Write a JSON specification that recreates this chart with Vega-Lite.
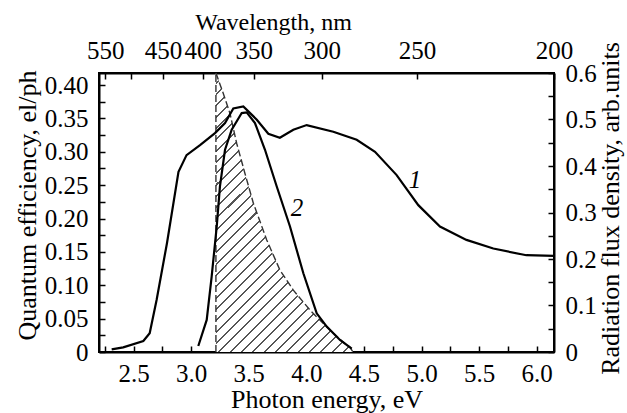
{
  "$schema": "https://vega.github.io/schema/vega-lite/v6.json",
  "width": 455,
  "height": 279,
  "autosize": {"type": "none"},
  "padding": {"left": 99, "top": 73, "right": 73, "bottom": 61},
  "background": "white",
  "config": {
    "view": {"stroke": "black", "strokeWidth": 2},
    "axis": {
      "grid": false,
      "domainColor": "black",
      "domainWidth": 2,
      "tickColor": "black",
      "tickWidth": 1.5,
      "tickSize": -6,
      "labelColor": "black",
      "titleColor": "black",
      "labelFont": "Liberation Serif",
      "titleFont": "Liberation Serif",
      "labelFontSize": 25,
      "titleFontSize": 26,
      "titleFontWeight": "normal",
      "labelOverlap": false,
      "labelFlush": false
    }
  },
  "datasets": {
    "c1": [
      {"E": 2.31, "v": 0.004}, {"E": 2.41, "v": 0.007}, {"E": 2.585, "v": 0.0165},
      {"E": 2.64, "v": 0.028}, {"E": 2.70, "v": 0.078}, {"E": 2.79, "v": 0.163},
      {"E": 2.89, "v": 0.270}, {"E": 2.96, "v": 0.295}, {"E": 3.077, "v": 0.310},
      {"E": 3.207, "v": 0.328}, {"E": 3.294, "v": 0.343}, {"E": 3.366, "v": 0.365},
      {"E": 3.453, "v": 0.368}, {"E": 3.57, "v": 0.348}, {"E": 3.67, "v": 0.327},
      {"E": 3.77, "v": 0.321}, {"E": 3.887, "v": 0.333}, {"E": 4.003, "v": 0.340},
      {"E": 4.234, "v": 0.330}, {"E": 4.437, "v": 0.318}, {"E": 4.596, "v": 0.300},
      {"E": 4.784, "v": 0.265}, {"E": 4.972, "v": 0.220}, {"E": 5.16, "v": 0.188},
      {"E": 5.39, "v": 0.168}, {"E": 5.623, "v": 0.155}, {"E": 5.91, "v": 0.145},
      {"E": 6.15, "v": 0.144}
    ],
    "c2": [
      {"E": 3.062, "v": 0.009}, {"E": 3.135, "v": 0.048}, {"E": 3.178, "v": 0.113},
      {"E": 3.222, "v": 0.188}, {"E": 3.25, "v": 0.248}, {"E": 3.294, "v": 0.303},
      {"E": 3.352, "v": 0.333}, {"E": 3.439, "v": 0.358}, {"E": 3.482, "v": 0.359},
      {"E": 3.554, "v": 0.343}, {"E": 3.641, "v": 0.303}, {"E": 3.743, "v": 0.248},
      {"E": 3.858, "v": 0.188}, {"E": 3.974, "v": 0.118}, {"E": 4.09, "v": 0.058},
      {"E": 4.177, "v": 0.038}, {"E": 4.292, "v": 0.018}, {"E": 4.394, "v": 0.005}
    ],
    "flux": [
      {"E": 3.215, "v": 0.6}, {"E": 3.279, "v": 0.556}, {"E": 3.337, "v": 0.513},
      {"E": 3.395, "v": 0.449}, {"E": 3.467, "v": 0.384}, {"E": 3.54, "v": 0.32},
      {"E": 3.656, "v": 0.241}, {"E": 3.771, "v": 0.176}, {"E": 3.887, "v": 0.133},
      {"E": 4.032, "v": 0.090}, {"E": 4.177, "v": 0.054}, {"E": 4.292, "v": 0.027},
      {"E": 4.379, "v": 0.010}, {"E": 4.40, "v": 0.002}
    ],
    "edge": [{"E": 3.215, "v": 0, "v2": 0.6}],
    "labels": [
      {"E": 4.943, "v": 0.258, "t": "1"},
      {"E": 3.919, "v": 0.216, "t": "2"}
    ]
  },
  "layer": [
    {
      "encoding": {
        "x": {
          "field": "E", "type": "quantitative",
          "scale": {"domain": [2.2, 6.15], "nice": false, "zero": false},
          "axis": {
            "orient": "top",
            "title": "Wavelength, nm",
            "titleFontSize": 24,
            "titleX": 174,
            "titleAlign": "center",
            "values": [2.2545, 2.48, 2.7556, 3.1, 3.5429, 4.1333, 4.96, 6.15],
            "labelExpr": "datum.value > 6 ? '200' : (datum.value == 2.48 ? '' : format(1240 / datum.value, '.0f'))",
            "labelPadding": 16,
            "titlePadding": 4
          }
        },
        "y": {
          "field": "v", "type": "quantitative",
          "scale": {"domain": [0, 0.6], "nice": false},
          "axis": {
            "orient": "right",
            "title": "Radiation flux density, arb.units",
            "titleFontSize": 26,
            "titleAngle": 270,
            "titleBaseline": "top",
            "titleAlign": "center",
            "titleY": 135,
            "values": [0, 0.05, 0.1, 0.15, 0.2, 0.25, 0.3, 0.35, 0.4, 0.45, 0.5, 0.55, 0.6],
            "labelExpr": "round(datum.value * 100) % 10 == 0 ? (datum.value == 0 ? '0' : format(datum.value, '.1f')) : ''",
            "labelPadding": 17,
            "titlePadding": 1
          }
        }
      },
      "layer": [
        {
          "data": {"name": "flux"},
          "mark": {
            "type": "area",
            "clip": true,
            "fill": {
              "gradient": "linear",
              "x1": 0, "y1": 0, "x2": 0.639, "y2": 1.31,
              "stops": [
                {"offset": 0, "color": "white"}, {"offset": 0.0205, "color": "white"}, {"offset": 0.0205, "color": "#555"}, {"offset": 0.025, "color": "#555"},
                {"offset": 0.025, "color": "white"}, {"offset": 0.0455, "color": "white"}, {"offset": 0.0455, "color": "#555"}, {"offset": 0.05, "color": "#555"},
                {"offset": 0.05, "color": "white"}, {"offset": 0.0705, "color": "white"}, {"offset": 0.0705, "color": "#555"}, {"offset": 0.075, "color": "#555"},
                {"offset": 0.075, "color": "white"}, {"offset": 0.0955, "color": "white"}, {"offset": 0.0955, "color": "#555"}, {"offset": 0.1, "color": "#555"},
                {"offset": 0.1, "color": "white"}, {"offset": 0.1205, "color": "white"}, {"offset": 0.1205, "color": "#555"}, {"offset": 0.125, "color": "#555"},
                {"offset": 0.125, "color": "white"}, {"offset": 0.1455, "color": "white"}, {"offset": 0.1455, "color": "#555"}, {"offset": 0.15, "color": "#555"},
                {"offset": 0.15, "color": "white"}, {"offset": 0.1705, "color": "white"}, {"offset": 0.1705, "color": "#555"}, {"offset": 0.175, "color": "#555"},
                {"offset": 0.175, "color": "white"}, {"offset": 0.1955, "color": "white"}, {"offset": 0.1955, "color": "#555"}, {"offset": 0.2, "color": "#555"},
                {"offset": 0.2, "color": "white"}, {"offset": 0.2205, "color": "white"}, {"offset": 0.2205, "color": "#555"}, {"offset": 0.225, "color": "#555"},
                {"offset": 0.225, "color": "white"}, {"offset": 0.2455, "color": "white"}, {"offset": 0.2455, "color": "#555"}, {"offset": 0.25, "color": "#555"},
                {"offset": 0.25, "color": "white"}, {"offset": 0.2705, "color": "white"}, {"offset": 0.2705, "color": "#555"}, {"offset": 0.275, "color": "#555"},
                {"offset": 0.275, "color": "white"}, {"offset": 0.2955, "color": "white"}, {"offset": 0.2955, "color": "#555"}, {"offset": 0.3, "color": "#555"},
                {"offset": 0.3, "color": "white"}, {"offset": 0.3205, "color": "white"}, {"offset": 0.3205, "color": "#555"}, {"offset": 0.325, "color": "#555"},
                {"offset": 0.325, "color": "white"}, {"offset": 0.3455, "color": "white"}, {"offset": 0.3455, "color": "#555"}, {"offset": 0.35, "color": "#555"},
                {"offset": 0.35, "color": "white"}, {"offset": 0.3705, "color": "white"}, {"offset": 0.3705, "color": "#555"}, {"offset": 0.375, "color": "#555"},
                {"offset": 0.375, "color": "white"}, {"offset": 0.3955, "color": "white"}, {"offset": 0.3955, "color": "#555"}, {"offset": 0.4, "color": "#555"},
                {"offset": 0.4, "color": "white"}, {"offset": 0.4205, "color": "white"}, {"offset": 0.4205, "color": "#555"}, {"offset": 0.425, "color": "#555"},
                {"offset": 0.425, "color": "white"}, {"offset": 0.4455, "color": "white"}, {"offset": 0.4455, "color": "#555"}, {"offset": 0.45, "color": "#555"},
                {"offset": 0.45, "color": "white"}, {"offset": 0.4705, "color": "white"}, {"offset": 0.4705, "color": "#555"}, {"offset": 0.475, "color": "#555"},
                {"offset": 0.475, "color": "white"}, {"offset": 0.4955, "color": "white"}, {"offset": 0.4955, "color": "#555"}, {"offset": 0.5, "color": "#555"},
                {"offset": 0.5, "color": "white"}, {"offset": 0.5205, "color": "white"}, {"offset": 0.5205, "color": "#555"}, {"offset": 0.525, "color": "#555"},
                {"offset": 0.525, "color": "white"}, {"offset": 0.5455, "color": "white"}, {"offset": 0.5455, "color": "#555"}, {"offset": 0.55, "color": "#555"},
                {"offset": 0.55, "color": "white"}, {"offset": 0.5705, "color": "white"}, {"offset": 0.5705, "color": "#555"}, {"offset": 0.575, "color": "#555"},
                {"offset": 0.575, "color": "white"}, {"offset": 0.5955, "color": "white"}, {"offset": 0.5955, "color": "#555"}, {"offset": 0.6, "color": "#555"},
                {"offset": 0.6, "color": "white"}, {"offset": 0.6205, "color": "white"}, {"offset": 0.6205, "color": "#555"}, {"offset": 0.625, "color": "#555"},
                {"offset": 0.625, "color": "white"}, {"offset": 0.6455, "color": "white"}, {"offset": 0.6455, "color": "#555"}, {"offset": 0.65, "color": "#555"},
                {"offset": 0.65, "color": "white"}, {"offset": 0.6705, "color": "white"}, {"offset": 0.6705, "color": "#555"}, {"offset": 0.675, "color": "#555"},
                {"offset": 0.675, "color": "white"}, {"offset": 0.6955, "color": "white"}, {"offset": 0.6955, "color": "#555"}, {"offset": 0.7, "color": "#555"},
                {"offset": 0.7, "color": "white"}, {"offset": 0.7205, "color": "white"}, {"offset": 0.7205, "color": "#555"}, {"offset": 0.725, "color": "#555"},
                {"offset": 0.725, "color": "white"}, {"offset": 0.7455, "color": "white"}, {"offset": 0.7455, "color": "#555"}, {"offset": 0.75, "color": "#555"},
                {"offset": 0.75, "color": "white"}, {"offset": 0.7705, "color": "white"}, {"offset": 0.7705, "color": "#555"}, {"offset": 0.775, "color": "#555"},
                {"offset": 0.775, "color": "white"}, {"offset": 0.7955, "color": "white"}, {"offset": 0.7955, "color": "#555"}, {"offset": 0.8, "color": "#555"},
                {"offset": 0.8, "color": "white"}, {"offset": 0.8205, "color": "white"}, {"offset": 0.8205, "color": "#555"}, {"offset": 0.825, "color": "#555"},
                {"offset": 0.825, "color": "white"}, {"offset": 0.8455, "color": "white"}, {"offset": 0.8455, "color": "#555"}, {"offset": 0.85, "color": "#555"},
                {"offset": 0.85, "color": "white"}, {"offset": 0.8705, "color": "white"}, {"offset": 0.8705, "color": "#555"}, {"offset": 0.875, "color": "#555"},
                {"offset": 0.875, "color": "white"}, {"offset": 0.8955, "color": "white"}, {"offset": 0.8955, "color": "#555"}, {"offset": 0.9, "color": "#555"},
                {"offset": 0.9, "color": "white"}, {"offset": 0.9205, "color": "white"}, {"offset": 0.9205, "color": "#555"}, {"offset": 0.925, "color": "#555"},
                {"offset": 0.925, "color": "white"}, {"offset": 0.9455, "color": "white"}, {"offset": 0.9455, "color": "#555"}, {"offset": 0.95, "color": "#555"},
                {"offset": 0.95, "color": "white"}, {"offset": 0.9705, "color": "white"}, {"offset": 0.9705, "color": "#555"}, {"offset": 0.975, "color": "#555"},
                {"offset": 0.975, "color": "white"}, {"offset": 0.9955, "color": "white"}, {"offset": 0.9955, "color": "#555"}, {"offset": 1, "color": "#555"}
              ]
            }
          }
        },
        {
          "data": {"name": "flux"},
          "mark": {"type": "line", "color": "#333", "strokeWidth": 1.4, "strokeDash": [7, 3], "clip": true}
        },
        {
          "data": {"name": "edge"},
          "mark": {"type": "rule", "color": "#333", "strokeWidth": 1.4, "strokeDash": [7, 3]},
          "encoding": {"y2": {"field": "v2"}}
        }
      ]
    },
    {
      "encoding": {
        "x": {
          "field": "E", "type": "quantitative",
          "scale": {"domain": [2.2, 6.15], "nice": false, "zero": false},
          "axis": {
            "orient": "bottom",
            "title": "Photon energy, eV",
            "values": [2.25, 2.5, 2.75, 3.0, 3.25, 3.5, 3.75, 4.0, 4.25, 4.5, 4.75, 5.0, 5.25, 5.5, 5.75, 6.0],
            "labelExpr": "round(datum.value * 100) % 50 == 0 ? format(datum.value, '.1f') : ''",
            "labelPadding": 15,
            "titlePadding": 0
          }
        },
        "y": {
          "field": "v", "type": "quantitative",
          "scale": {"domain": [0, 0.418], "nice": false},
          "axis": {
            "orient": "left",
            "title": "Quantum efficiency, el/ph",
            "titleY": 132,
            "titleAlign": "center",
            "values": [0, 0.025, 0.05, 0.075, 0.1, 0.125, 0.15, 0.175, 0.2, 0.225, 0.25, 0.275, 0.3, 0.325, 0.35, 0.375, 0.4],
            "labelExpr": "round(datum.value * 1000) % 50 == 0 ? (datum.value == 0 ? '0' : format(datum.value, '.2f')) : ''",
            "labelPadding": 17,
            "titlePadding": 4
          }
        }
      },
      "layer": [
        {
          "data": {"name": "c1"},
          "mark": {"type": "line", "color": "black", "strokeWidth": 2.2}
        },
        {
          "data": {"name": "c2"},
          "mark": {"type": "line", "color": "black", "strokeWidth": 2.2}
        },
        {
          "data": {"name": "labels"},
          "mark": {"type": "text", "font": "Liberation Serif", "fontStyle": "italic", "fontSize": 25, "color": "black"},
          "encoding": {"text": {"field": "t"}}
        }
      ]
    }
  ],
  "resolve": {"scale": {"x": "independent", "y": "independent"}}
}
